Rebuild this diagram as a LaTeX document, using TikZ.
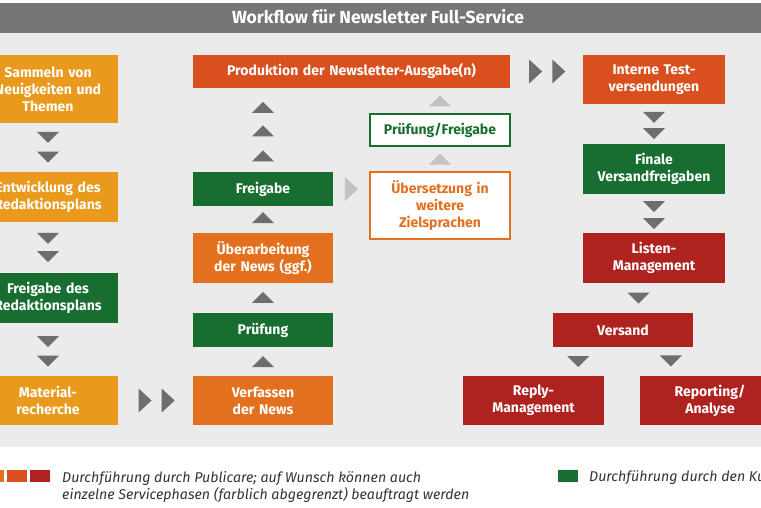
\documentclass[tikz,border=0pt]{standalone}
\usepackage{fontspec}
\setmainfont{Fira Sans}
\usepackage{xcolor}
\usetikzlibrary{positioning,calc}

\definecolor{ygold}{HTML}{E99A1C}
\definecolor{orng}{HTML}{E2701E}
\definecolor{redorng}{HTML}{D9501E}
\definecolor{dred}{HTML}{AE231F}
\definecolor{dgreen}{HTML}{186E30}
\definecolor{bggray}{HTML}{EBEBEB}
\definecolor{titlegray}{HTML}{767676}
\definecolor{trigray}{HTML}{6E6E6E}
\definecolor{lightgray}{HTML}{C2C2C2}

% small triangles used as step markers
\newcommand{\dtri}[2][tri]{\fill[#1] #2 ++(-11,-5.5) -- ++(22,0) -- ++(-11,11) -- cycle;}
\newcommand{\utri}[2][tri]{\fill[#1] #2 ++(-11,5.5) -- ++(22,0) -- ++(-11,-11) -- cycle;}
\newcommand{\rtri}[2][tri]{\fill[#1] #2 ++(-6.5,-12) -- ++(0,24) -- ++(13,-12) -- cycle;}

\begin{document}
\begin{tikzpicture}[
    x=1pt, y=-1pt,
    box/.style={rectangle, text=white, minimum width=140pt, text width=138pt,
                align=center, inner sep=0pt, font=\fontsize{14}{17}\selectfont\bfseries},
    gold/.style={box, fill=ygold},
    orangebox/.style={box, fill=orng},
    redorangebox/.style={box, fill=redorng},
    redbox/.style={box, fill=dred},
    greenbox/.style={box, fill=dgreen},
    openbox/.style={box, fill=white, draw=#1, line width=1.2pt, text=#1},
    tri/.style={fill=trigray},
    ltri/.style={fill=lightgray},
    legend/.style={anchor=west, align=left, inner sep=0pt,
                   font=\fontsize{14.2}{17}\selectfont\itshape, text=black!80},
]
\useasboundingbox (0,0) rectangle (761,507);
\clip (0,0) rectangle (761,507);

% Background and title bar
\fill[bggray] (0,33) rectangle (761,447);
\fill[titlegray] (0,3) rectangle (761,33);
\node[text=white, font=\fontsize{17.5}{20}\selectfont\bfseries] (title) at (378,17)
    {Workflow für Newsletter Full-Service};

% Left column
\node[gold, minimum height=68pt] (sammeln) at (48,89) {Sammeln von\\Neuigkeiten und\\Themen};
\node[gold, minimum height=50pt] (entw) at (48,197) {Entwicklung des\\Redaktionsplans};
\node[greenbox, minimum height=50pt] (freigabeRP) at (48,298) {Freigabe des\\Redaktionsplans};
\node[gold, minimum height=49pt] (material) at (48,400.5) {Material-\\recherche};

% Middle column
\node[redorangebox, minimum width=317pt, text width=300pt, minimum height=33pt]
    (produktion) at (351.5,71.5) {Produktion der Newsletter-Ausgabe(n)};
\node[greenbox, minimum height=34pt] (freigabe) at (263,189) {Freigabe};
\node[orangebox, minimum height=50pt] (ueberarb) at (263,258) {Überarbeitung\\der News (ggf.)};
\node[greenbox, minimum height=34pt] (pruefung) at (263,330) {Prüfung};
\node[orangebox, minimum height=49pt] (verfassen) at (263,400.5) {Verfassen\\der News};

% Optional translation branch
\node[openbox=dgreen, minimum height=32pt] (pruefFrei) at (440,130) {Prüfung/Freigabe};
\node[openbox=orng, minimum height=67pt] (uebersetz) at (440,205.5)
    {Übersetzung in\\weitere\\Zielsprachen};

% Right column
\node[redorangebox, minimum width=142pt, minimum height=49pt] (interne) at (654,79.5)
    {Interne Test-\\versendungen};
\node[greenbox, minimum width=142pt, minimum height=50pt] (finale) at (654,169)
    {Finale\\Versandfreigaben};
\node[redbox, minimum width=142pt, minimum height=50pt] (listen) at (654,258)
    {Listen-\\Management};
\node[redbox, minimum height=34pt] (versand) at (623,330) {Versand};
\node[redbox, minimum width=141pt, minimum height=49pt] (reply) at (533.5,400.5)
    {Reply-\\Management};
\node[redbox, minimum height=49pt] (reporting) at (710,400.5) {Reporting/\\Analyse};

% Step markers, left column
\dtri{($(sammeln.south)!.29!(entw.north)$)}
\dtri{($(sammeln.south)!.70!(entw.north)$)}
\dtri{($(entw.south)!.32!(freigabeRP.north)$)}
\dtri{($(entw.south)!.68!(freigabeRP.north)$)}
\dtri{($(freigabeRP.south)!.35!(material.north)$)}
\dtri{($(freigabeRP.south)!.72!(material.north)$)}
\rtri{($(material.east)!.36!(verfassen.west)$)}
\rtri{($(material.east)!.67!(verfassen.west)$)}

% Step markers, middle column
\utri{($(verfassen.north)!.5!(pruefung.south)$)}
\utri{($(pruefung.north)!.52!(ueberarb.south)$)}
\utri{($(ueberarb.north)!.57!(freigabe.south)$)}
\utri{($(freigabe.north)!.19!(freigabe.north |- produktion.south)$)}
\utri{($(freigabe.north)!.49!(freigabe.north |- produktion.south)$)}
\utri{($(freigabe.north)!.77!(freigabe.north |- produktion.south)$)}
\rtri[ltri]{($(freigabe.east)!.5!(freigabe.east -| uebersetz.west)$)}
\utri[ltri]{($(uebersetz.north)!.5!(pruefFrei.south)$)}
\utri[ltri]{($(pruefFrei.north)!.5!(pruefFrei.north |- produktion.south)$)}
\rtri{($(produktion.east)!.35!(produktion.east -| interne.west)$)}
\rtri{($(produktion.east)!.67!(produktion.east -| interne.west)$)}

% Step markers, right column
\dtri{($(interne.south)!.33!(finale.north)$)}
\dtri{($(interne.south)!.74!(finale.north)$)}
\dtri{($(finale.south)!.32!(listen.north)$)}
\dtri{($(finale.south)!.76!(listen.north)$)}
\dtri{($(listen.south)!.5!(versand.north)$)}
\dtri{($(versand.south)!.5!(reply.north)$)}
\dtri{($(versand.south)!.55!(reporting.north)+(0,-2)$)}

% Legend
\fill[orng] (-16,470) rectangle (4,482);
\fill[redorng] (7,470) rectangle (27,482);
\fill[dred] (30,470) rectangle (50,482);
\node[legend] (legA) at (62,486.5)
    {Durchführung durch Publicare; auf Wunsch können auch\\einzelne Servicephasen (farblich abgegrenzt) beauftragt werden};
\fill[dgreen] (558,470) rectangle (578,482);
\node[legend] (legB) at (589,478) {Durchführung durch den Kunden};

\end{tikzpicture}
\end{document}
